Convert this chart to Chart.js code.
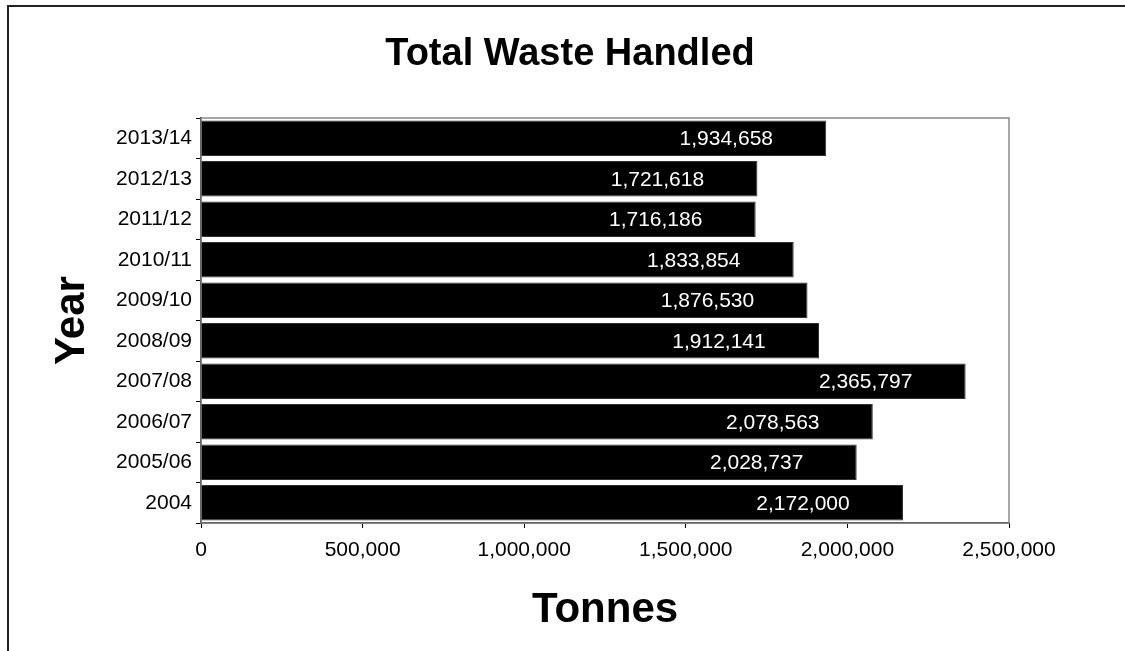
<!DOCTYPE html>
<html>
<head>
<meta charset="utf-8">
<script src="https://cdn.jsdelivr.net/npm/chart.js@4.4.0/dist/chart.umd.min.js"></script>
<style>
  html, body { margin: 0; padding: 0; background: #fff; overflow: hidden; }
  #wrap { width: 1125px; height: 651px; position: relative; }
</style>
</head>
<body>
<div id="wrap"><canvas id="chart" width="1125" height="651"></canvas></div>
<script>
const years = ['2013/14', '2012/13', '2011/12', '2010/11', '2009/10', '2008/09', '2007/08', '2006/07', '2005/06', '2004'];
const tonnes = [1934658, 1721618, 1716186, 1833854, 1876530, 1912141, 2365797, 2078563, 2028737, 2172000];
const tonneTicks = [0, 500000, 1000000, 1500000, 2000000, 2500000];

const FONT = "'Liberation Sans', Arial, sans-serif";

// outer frame + grey plot border; title centred on the whole frame
const framePlugin = {
  id: 'frame',
  afterLayout(chart) {
    const t = chart.titleBlock;
    if (t) { t.left = 8; t.right = 1132; t.width = 1124; }
  },
  beforeDraw(chart) {
    const ctx = chart.ctx;
    ctx.save();
    ctx.fillStyle = '#fff';
    ctx.fillRect(0, 0, chart.width, chart.height);
    ctx.strokeStyle = '#222';
    ctx.lineWidth = 2;
    ctx.beginPath();
    ctx.moveTo(8, chart.height);
    ctx.lineTo(8, 6);
    ctx.lineTo(chart.width, 6);
    ctx.stroke();
    ctx.restore();
  },
  beforeDatasetsDraw(chart) {
    const a = chart.chartArea;
    const ctx = chart.ctx;
    ctx.save();
    ctx.strokeStyle = '#888';
    ctx.lineWidth = 1.5;
    ctx.strokeRect(a.left, a.top, a.right - a.left, a.bottom - a.top);
    ctx.restore();
  }
};

// white value labels on black boxes, near the bar ends
const valueLabels = {
  id: 'valueLabels',
  afterDatasetsDraw(chart) {
    const ctx = chart.ctx;
    const meta = chart.getDatasetMeta(0);
    ctx.save();
    ctx.font = '21px ' + FONT;
    ctx.textAlign = 'center';
    ctx.textBaseline = 'middle';
    meta.data.forEach((bar, i) => {
      const txt = tonnes[i].toLocaleString('en-US');
      const w = ctx.measureText(txt).width;
      const cx = bar.x - 100;
      ctx.fillStyle = '#000';
      ctx.fillRect(cx - w / 2 - 3, bar.y - 14, w + 6, 28);
      ctx.fillStyle = '#fff';
      ctx.fillText(txt, cx, bar.y + 1);
    });
    ctx.restore();
  }
};

new Chart(document.getElementById('chart'), {
  type: 'bar',
  data: {
    labels: years,
    datasets: [{
      data: tonnes,
      backgroundColor: '#000',
      borderColor: '#333',
      borderWidth: 1,
      barPercentage: 0.88,
      categoryPercentage: 1.0
    }]
  },
  options: {
    indexAxis: 'y',
    responsive: false,
    animation: false,
    layout: { padding: { left: 0, right: 116, top: 0, bottom: 0 } },
    plugins: {
      legend: { display: false },
      tooltip: { enabled: false },
      title: {
        display: true,
        text: 'Total Waste Handled',
        color: '#000',
        font: { family: FONT, size: 38, weight: 'bold' },
        padding: { top: 32, bottom: 40.4 }
      }
    },
    scales: {
      y: {
        grid: { drawOnChartArea: false, drawTicks: true, tickLength: 5, color: '#000', offset: true },
        border: { color: '#000', width: 1.5 },
        ticks: { color: '#000', padding: 4, font: { family: FONT, size: 21 } },
        title: {
          display: true,
          text: 'Year',
          color: '#000',
          font: { family: FONT, size: 42, weight: 'bold' },
          padding: { top: 47, bottom: 0 }
        },
        afterFit(scale) { scale.width = 201; }
      },
      x: {
        min: 0,
        max: 2500000,
        afterBuildTicks(scale) { scale.ticks = tonneTicks.map(v => ({ value: v })); },
        grid: { drawOnChartArea: false, drawTicks: true, tickLength: 5, color: '#000' },
        border: { color: '#000', width: 1.5 },
        ticks: {
          color: '#000',
          padding: 10,
          maxRotation: 0,
          font: { family: FONT, size: 21 },
          callback: v => Number(v).toLocaleString('en-US')
        },
        title: {
          display: true,
          text: 'Tonnes',
          color: '#000',
          font: { family: FONT, size: 42, weight: 'bold' },
          padding: { top: 0, bottom: 15 }
        },
        afterFit(scale) { scale.height = 128; }
      }
    }
  },
  plugins: [framePlugin, valueLabels]
});
</script>
</body>
</html>
